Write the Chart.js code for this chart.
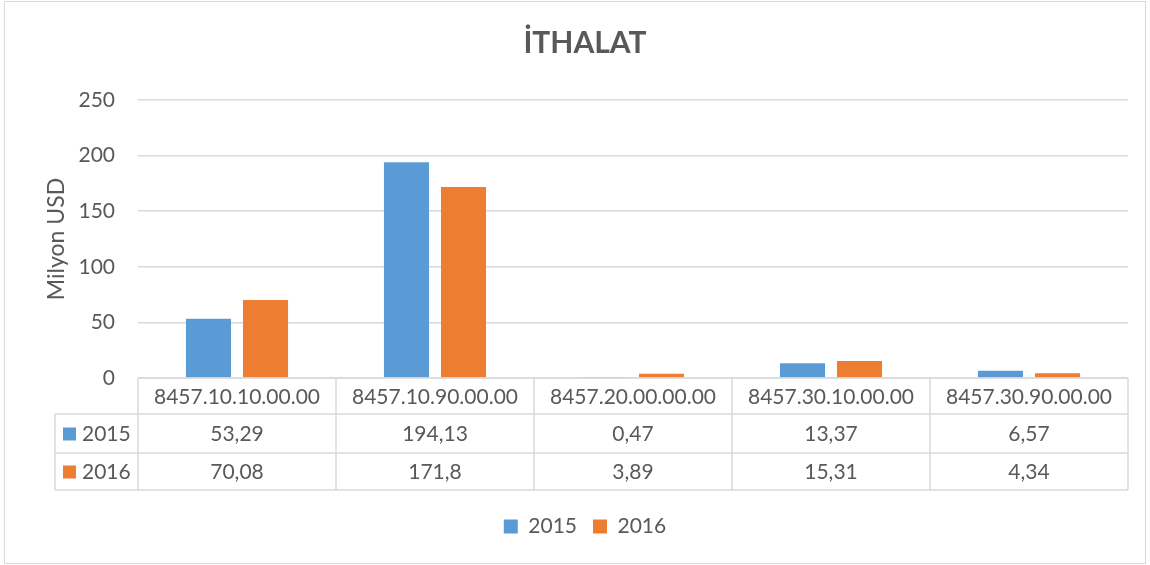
<!DOCTYPE html>
<html>
<head>
<meta charset="utf-8">
<script src="https://cdn.jsdelivr.net/npm/chart.js@4.4.1/dist/chart.umd.min.js"></script>
<style>
  html, body { margin: 0; padding: 0; background: #ffffff; }
  #wrap { width: 1150px; height: 565px; position: relative; }
</style>
</head>
<body>
<div id="wrap"><canvas id="c" width="1150" height="565"></canvas></div>
<script>
const chartTitle = 'İTHALAT';
const yAxisTitle = 'Milyon USD';
const categories = ['8457.10.10.00.00', '8457.10.90.00.00', '8457.20.00.00.00', '8457.30.10.00.00', '8457.30.90.00.00'];
const seriesNames = ['2015', '2016'];
const values2015 = [53.29, 194.13, 0.47, 13.37, 6.57];
const values2016 = [70.08, 171.8, 3.89, 15.31, 4.34];
const yTicks = [0, 50, 100, 150, 200, 250];

const colors = ['#5B9BD5', '#ED7D31'];
const textColor = '#595959';
const lineColor = '#D9D9D9';
const FONT = 'Lato, "Open Sans", sans-serif';

function fmt(v) { return String(v).replace('.', ','); }

const tablePlugin = {
  id: 'dataTable',
  beforeDraw(chart) {
    const ctx = chart.ctx;
    ctx.save();
    ctx.fillStyle = '#ffffff';
    ctx.fillRect(0, 0, chart.width, chart.height);
    ctx.strokeStyle = lineColor;
    ctx.lineWidth = 1;
    ctx.strokeRect(4.5, 1.5, chart.width - 9, chart.height - 3);
    ctx.restore();
  },
  afterDraw(chart) {
    const ctx = chart.ctx;
    const xs = chart.scales.x;
    const area = chart.chartArea;
    const n = categories.length;
    const cw = (area.right - area.left) / n;
    const top = area.bottom;
    const rowH = [36, 39, 37];
    const y1 = top + rowH[0];
    const y2 = y1 + rowH[1];
    const y3 = y2 + rowH[2];
    const leftCol = 55;
    ctx.save();
    ctx.strokeStyle = lineColor;
    ctx.lineWidth = 1.5;
    ctx.beginPath();
    ctx.moveTo(area.left, top); ctx.lineTo(area.right, top);
    [y1, y2, y3].forEach(y => { ctx.moveTo(leftCol, y); ctx.lineTo(area.right, y); });
    for (let i = 0; i <= n; i++) {
      const x = area.left + i * cw;
      ctx.moveTo(x, top); ctx.lineTo(x, y3);
    }
    ctx.moveTo(leftCol, y1); ctx.lineTo(leftCol, y3);
    ctx.stroke();

    ctx.fillStyle = textColor;
    ctx.font = '21px ' + FONT;
    ctx.textAlign = 'center';
    ctx.textBaseline = 'middle';
    const rows = [values2015, values2016];
    const centers = [(top + y1) / 2, (y1 + y2) / 2, (y2 + y3) / 2];
    categories.forEach((c, i) => {
      const cx = xs.getPixelForValue(i);
      ctx.fillText(c, cx, centers[0] + 1);
      rows.forEach((r, j) => ctx.fillText(fmt(r[i]), cx, centers[j + 1] + 1));
    });
    ctx.textAlign = 'left';
    seriesNames.forEach((s, j) => {
      const cy = centers[j + 1];
      ctx.fillStyle = colors[j];
      ctx.fillRect(63, cy - 6, 13, 13);
      ctx.fillStyle = textColor;
      ctx.fillText(s, 82, cy + 1);
    });
    ctx.restore();
  }
};

new Chart(document.getElementById('c'), {
  type: 'bar',
  data: {
    labels: categories,
    datasets: [
      { label: seriesNames[0], data: values2015, backgroundColor: colors[0], categoryPercentage: 0.576, barPercentage: 0.79 },
      { label: seriesNames[1], data: values2016, backgroundColor: colors[1], categoryPercentage: 0.576, barPercentage: 0.79 }
    ]
  },
  options: {
    responsive: false,
    animation: false,
    layout: { padding: { left: 42, right: 22, top: 0, bottom: 18 } },
    plugins: {
      title: {
        display: true,
        text: chartTitle,
        color: textColor,
        font: { family: FONT, size: 30, weight: 'bold' },
        padding: { top: 25, bottom: 39 }
      },
      legend: {
        display: true,
        position: 'bottom',
        labels: {
          color: textColor,
          font: { family: FONT, size: 21 },
          boxWidth: 14,
          boxHeight: 14,
          padding: 16
        }
      },
      tooltip: { enabled: false }
    },
    scales: {
      x: {
        grid: { display: false },
        border: { display: false },
        ticks: { display: false },
        afterFit(scale) { scale.height = 122; }
      },
      y: {
        min: 0,
        max: 250,
        afterBuildTicks(scale) { scale.ticks = yTicks.map(v => ({ value: v })); },
        grid: { color: lineColor, lineWidth: 1.5, drawTicks: false },
        border: { display: false },
        ticks: { color: textColor, font: { family: FONT, size: 21 }, padding: 23 },
        title: {
          display: true,
          text: yAxisTitle,
          color: textColor,
          font: { family: FONT, size: 23 },
          padding: { top: 1, bottom: 0 }
        },
        afterFit(scale) { scale.width = 138 - 42; }
      }
    }
  },
  plugins: [tablePlugin]
});
</script>
</body>
</html>
